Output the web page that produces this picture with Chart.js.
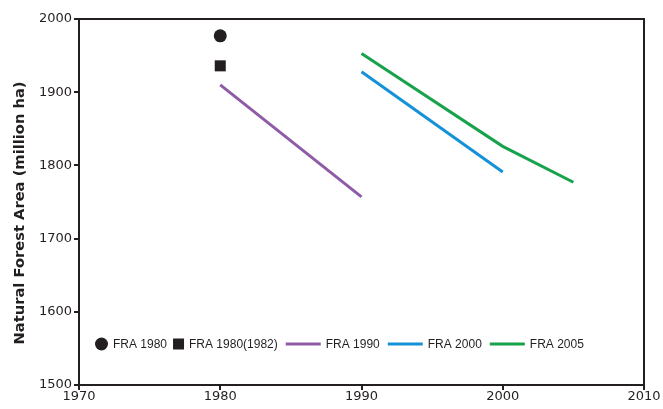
<!DOCTYPE html>
<html lang="en">
<head>
    <meta charset="UTF-8">
    <title>Natural Forest Area</title>
    <script src="https://cdn.jsdelivr.net/npm/chart.js"></script>
    <style>
        body {
            margin: 0;
            background: #ffffff;
        }
        .wrap {
            position: relative;
            width: 663px;
            height: 409px;
        }
    </style>
</head>
<body>
    <div class="wrap">
        <canvas id="forestChart"></canvas>
    </div>

    <script>
        // values
        const seriesNames = ['FRA 1980', 'FRA 1980(1982)', 'FRA 1990', 'FRA 2000', 'FRA 2005'];
        const fra1980Years = [1980];
        const fra1980Values = [1977];
        const fra1982Years = [1980];
        const fra1982Values = [1936];
        const fra1990Years = [1980, 1990];
        const fra1990Values = [1910, 1757];
        const fra2000Years = [1990, 2000];
        const fra2000Values = [1928, 1791];
        const fra2005Years = [1990, 2000, 2005];
        const fra2005Values = [1953, 1826, 1777];
        const xTicks = [1970, 1980, 1990, 2000, 2010];
        const yTicks = [1500, 1600, 1700, 1800, 1900, 2000];
        const yTitle = 'Natural Forest Area (million ha)';

        const toPoints = (xs, ys) => xs.map((x, i) => ({ x: x, y: ys[i] }));

        const INK = '#231f20';
        const TICK_FONT = 'DejaVu Sans, Verdana, sans-serif';
        const LEGEND_FONT = 'Liberation Sans, Arial, Helvetica, sans-serif';

        // box around plot, y title, legend inside the plot area
        const framePlugin = {
            id: 'frame',
            afterDraw(chart) {
                const { ctx, chartArea: a } = chart;
                ctx.save();
                ctx.strokeStyle = INK;
                ctx.lineWidth = 2;
                ctx.beginPath();
                ctx.moveTo(a.left, a.top);
                ctx.lineTo(a.right, a.top);
                ctx.lineTo(a.right, a.bottom);
                ctx.stroke();

                // y axis title
                ctx.save();
                ctx.translate(20, 213);
                ctx.rotate(-Math.PI / 2);
                ctx.font = 'bold 14.7px ' + TICK_FONT;
                ctx.fillStyle = INK;
                ctx.textAlign = 'center';
                ctx.textBaseline = 'middle';
                ctx.fillText(yTitle, 0, 0);
                ctx.restore();

                // legend
                let x = a.left + 16;
                const y = a.bottom - 41;
                ctx.font = '12px ' + LEGEND_FONT;
                ctx.textBaseline = 'middle';
                chart.data.datasets.forEach(ds => {
                    if (ds.showLine === false) {
                        ctx.fillStyle = ds.backgroundColor;
                        if (ds.pointStyle === 'rect') {
                            ctx.fillRect(x, y - 5.5, 11, 11);
                            x += 11;
                        } else {
                            ctx.beginPath();
                            ctx.arc(x + 6.5, y, 6.5, 0, Math.PI * 2);
                            ctx.fill();
                            x += 13;
                        }
                    } else {
                        x += 2;
                        ctx.strokeStyle = ds.borderColor;
                        ctx.lineWidth = 3;
                        ctx.beginPath();
                        ctx.moveTo(x, y);
                        ctx.lineTo(x + 35, y);
                        ctx.stroke();
                        x += 35;
                    }
                    x += 5;
                    ctx.fillStyle = INK;
                    ctx.fillText(ds.label, x, y + 0.5);
                    x += ctx.measureText(ds.label).width + 6;
                });
                ctx.restore();
            }
        };

        const axisGrid = {
            drawOnChartArea: false,
            drawTicks: true,
            tickLength: 5,
            color: INK,
            lineWidth: 2
        };

        const ctx = document.getElementById('forestChart').getContext('2d');

        new Chart(ctx, {
            type: 'scatter',
            data: {
                datasets: [
                    {
                        label: seriesNames[0],
                        data: toPoints(fra1980Years, fra1980Values),
                        showLine: false,
                        pointStyle: 'circle',
                        pointRadius: 6.5,
                        backgroundColor: INK,
                        borderColor: INK,
                        borderWidth: 0
                    },
                    {
                        label: seriesNames[1],
                        data: toPoints(fra1982Years, fra1982Values),
                        showLine: false,
                        pointStyle: 'rect',
                        pointRadius: 7.8,
                        backgroundColor: INK,
                        borderColor: INK,
                        borderWidth: 0
                    },
                    {
                        label: seriesNames[2],
                        data: toPoints(fra1990Years, fra1990Values),
                        showLine: true,
                        borderColor: '#8e5ba6',
                        backgroundColor: '#8e5ba6',
                        borderWidth: 3,
                        pointRadius: 0,
                        tension: 0
                    },
                    {
                        label: seriesNames[3],
                        data: toPoints(fra2000Years, fra2000Values),
                        showLine: true,
                        borderColor: '#1591d8',
                        backgroundColor: '#1591d8',
                        borderWidth: 3,
                        pointRadius: 0,
                        tension: 0
                    },
                    {
                        label: seriesNames[4],
                        data: toPoints(fra2005Years, fra2005Values),
                        showLine: true,
                        borderColor: '#18a24b',
                        backgroundColor: '#18a24b',
                        borderWidth: 3,
                        pointRadius: 0,
                        tension: 0
                    }
                ]
            },
            options: {
                responsive: true,
                maintainAspectRatio: false,
                animation: false,
                layout: {
                    padding: { top: 19, right: 19, left: 0, bottom: 0 }
                },
                plugins: {
                    legend: { display: false },
                    tooltip: { enabled: false }
                },
                scales: {
                    x: {
                        type: 'linear',
                        min: 1970,
                        max: 2010,
                        afterBuildTicks: axis => {
                            axis.ticks = xTicks.map(v => ({ value: v }));
                        },
                        afterFit: axis => { axis.height = 24; },
                        border: { color: INK, width: 2 },
                        grid: axisGrid,
                        ticks: {
                            color: INK,
                            padding: 0,
                            maxRotation: 0,
                            callback: v => String(v),
                            font: { family: TICK_FONT, size: 13, lineHeight: 1 }
                        }
                    },
                    y: {
                        min: 1500,
                        max: 2000,
                        afterBuildTicks: axis => {
                            axis.ticks = yTicks.map(v => ({ value: v }));
                        },
                        afterFit: axis => { axis.width = 79; },
                        border: { color: INK, width: 2 },
                        grid: axisGrid,
                        ticks: {
                            color: INK,
                            padding: 2,
                            callback: v => String(v),
                            font: { family: TICK_FONT, size: 13 }
                        }
                    }
                }
            },
            plugins: [framePlugin]
        });
    </script>
</body>
</html>
